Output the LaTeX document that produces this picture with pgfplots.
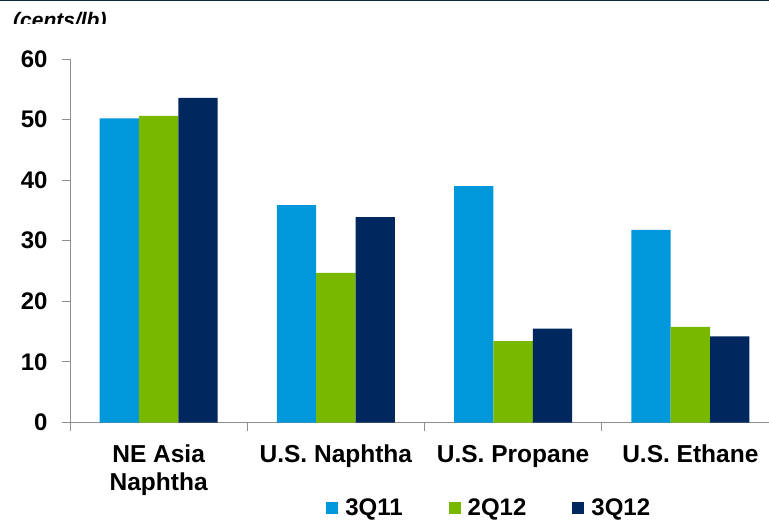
\documentclass[border=0pt]{standalone}
\usepackage{pgfplots}
\pgfplotsset{compat=1.18}
\usepackage{fontspec}
\setmainfont{Liberation Sans}
\definecolor{cA}{HTML}{0098DB}
\definecolor{cB}{HTML}{78B900}
\definecolor{cC}{HTML}{00285F}
\definecolor{axg}{HTML}{8E8E8E}
\definecolor{topl}{HTML}{0B2B3C}
\begin{document}
\begin{tikzpicture}
\useasboundingbox (0pt,0pt) rectangle (769pt,520pt);
\clip (0pt,0pt) rectangle (769pt,520pt);
\fill[topl] (0pt,518.5pt) rectangle (769pt,520pt);
\begin{scope}
\clip (0pt,496pt) rectangle (200pt,520pt);
\node[anchor=base west, inner sep=0pt, font=\fontsize{21}{24}\selectfont\bfseries\itshape] at (13pt,492pt) {(cents/lb)};
\end{scope}
\begin{axis}[
 at={(70pt,97.5pt)}, anchor=south west, scale only axis,
 width=709pt, height=363.5pt,
 xmin=-0.5, xmax=3.5, ymin=0, ymax=60,
 ybar=0pt, bar width=39.3pt,
 axis x line*=bottom, axis y line*=left,
 axis line style={axg, line width=1pt},
 tick style={axg, line width=1pt},
 major tick length=8pt, tick align=outside,
 ytick={0,10,20,30,40,50,60},
 xtick={-0.5,0.5,1.5,2.5,3.5},
 x tick label as interval,
 xticklabels={{NE Asia\\Naphtha},{U.S. Naphtha},{U.S. Propane},{U.S. Ethane}},
 /pgf/number format/assume math mode=true,
 yticklabel style={font=\fontsize{24}{24}\selectfont\bfseries, xshift=-11pt},
 xticklabel style={font=\fontsize{24.5}{28}\selectfont\bfseries, align=center, yshift=-11pt},
 legend columns=3,
 legend style={at={(0.357,-0.235)}, anchor=west, draw=none, fill=none,
   font=\fontsize{24}{24}\selectfont\bfseries,
   /tikz/every even column/.append style={column sep=44pt}},
 legend image code/.code={\fill[#1] (0pt,-6pt) rectangle (12pt,6pt); \path (17pt,0pt);},
]
\addplot[fill=cA, draw=none] coordinates {(0,50.2) (1,35.9) (2,39.0) (3,31.8)};
\addplot[fill=cB, draw=none] coordinates {(0,50.6) (1,24.7) (2,13.45) (3,15.8)};
\addplot[fill=cC, draw=none] coordinates {(0,53.6) (1,33.9) (2,15.5) (3,14.2)};
\legend{3Q11,2Q12,3Q12}
\end{axis}
\end{tikzpicture}
\end{document}
